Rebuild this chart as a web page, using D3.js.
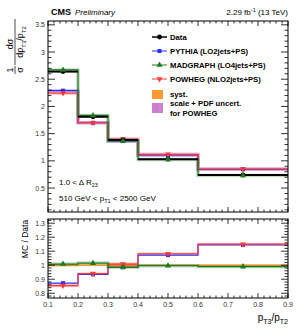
<!DOCTYPE html>
<html>
<head>
<meta charset="utf-8">
<script src="https://cdnjs.cloudflare.com/ajax/libs/d3/7.8.5/d3.min.js"></script>
<style>
  body { margin: 0; background: #fff; }
  svg { font-family: "Liberation Sans", Arial, sans-serif; }
</style>
</head>
<body>
<svg width="297" height="334"></svg>
<script>
// bin edges in pT3/pT2
const binEdges = [0.1, 0.2, 0.3, 0.4, 0.6, 0.9];

// normalised cross section (upper panel)
const dataVals = [2.64, 1.81, 1.385, 1.03, 0.74];
const pythiaVals = [2.29, 1.70, 1.365, 1.105, 0.845];
const madgraphVals = [2.67, 1.835, 1.365, 1.025, 0.733];
const powhegVals = [2.245, 1.70, 1.40, 1.12, 0.85];

// MC / Data (lower panel)
const pythiaRatio = [0.872, 0.935, 0.985, 1.072, 1.145];
const madgraphRatio = [1.008, 1.015, 0.985, 0.997, 0.99];
const powhegRatio = [0.855, 0.94, 1.008, 1.082, 1.15];
const systErr = [0.008, 0.006, 0.012, 0.006, 0.006];
const powhegTheoErr = [0.012, 0.008, 0.012, 0.01, 0.008];

const upperTicks = [0.5, 1, 1.5, 2, 2.5, 3, 3.5];
const lowerTicks = [0.8, 0.9, 1, 1.1, 1.2, 1.3];
const xTicks = [0.1, 0.2, 0.3, 0.4, 0.5, 0.6, 0.7, 0.8, 0.9];

const colData = "#000000";
const colPythia = "#2b2bff";
const colMadgraph = "#1f7a1f";
const colPowheg = "#ff3b3b";
const colSyst = "#ff9a33";
const colTheo = "#cc7fcc";

const svg = d3.select("svg");

const left = 48, right = 288;
const up = { top: 21, bottom: 212 };
const lo = { top: 219, bottom: 298 };

const x = d3.scaleLinear().domain([0.1, 0.9]).range([left, right]);
const yUp = d3.scaleLinear().domain([0.06, 3.57]).range([up.bottom, up.top]);
const yLo = d3.scaleLinear().domain([0.766, 1.33]).range([lo.bottom, lo.top]);

const bins = binEdges.slice(0, -1).map((e, i) => ({ lo: e, hi: binEdges[i + 1], mid: (e + binEdges[i + 1]) / 2, i }));

function stepPoints(vals) {
  const pts = [];
  vals.forEach((v, i) => {
    pts.push([binEdges[i], v]);
    pts.push([binEdges[i + 1], v]);
  });
  return pts;
}

function drawStep(g, vals, y, color, halo) {
  const line = d3.line().x(d => x(d[0])).y(d => y(d[1]));
  if (halo) {
    g.append("path").attr("d", line(stepPoints(vals)))
      .attr("fill", "none").attr("stroke", color).attr("stroke-opacity", 0.28).attr("stroke-width", 3.5);
  }
  g.append("path").attr("d", line(stepPoints(vals)))
    .attr("fill", "none").attr("stroke", color).attr("stroke-width", 1.2);
}

function symbolFor(shape) {
  return shape === "square" ? d3.symbolSquare : shape === "circle" ? d3.symbolCircle : d3.symbolTriangle;
}

function drawMarkers(g, vals, y, color, shape) {
  const sym = d3.symbol().type(symbolFor(shape)).size(shape === "circle" ? 18 : 16);
  g.selectAll(null).data(bins).enter().append("path")
    .attr("d", sym)
    .attr("transform", d => `translate(${x(d.mid)},${y(vals[d.i])})` + (shape === "tri-down" ? " rotate(180)" : ""))
    .attr("fill", color);
}

function drawAxes(yScale, box, yTickVals, yMinorStep, showXLabels) {
  const g = svg.append("g");
  const [y0, y1] = yScale.domain();
  // y ticks on both sides
  d3.range(Math.ceil(y0 / yMinorStep) * yMinorStep, y1, yMinorStep).forEach(v => {
    const isMajor = yTickVals.some(t => Math.abs(t - v) < 1e-6);
    const len = isMajor ? 7 : 3.5;
    const yy = yScale(v);
    g.append("line").attr("x1", left).attr("x2", left + len).attr("y1", yy).attr("y2", yy);
    g.append("line").attr("x1", right).attr("x2", right - len).attr("y1", yy).attr("y2", yy);
  });
  // x ticks top and bottom
  d3.range(0.1, 0.9001, 0.02).forEach(v => {
    const isMajor = xTicks.some(t => Math.abs(t - v) < 1e-6);
    const len = isMajor ? 5 : 2.5;
    const xx = x(v);
    g.append("line").attr("x1", xx).attr("x2", xx).attr("y1", box.bottom).attr("y2", box.bottom - len);
    g.append("line").attr("x1", xx).attr("x2", xx).attr("y1", box.top).attr("y2", box.top + len);
  });
  g.selectAll("line").attr("stroke", "#000").attr("stroke-width", 0.8);
  g.append("rect").attr("x", left).attr("y", box.top).attr("width", right - left).attr("height", box.bottom - box.top)
    .attr("fill", "none").attr("stroke", "#000").attr("stroke-width", 1);
  yTickVals.forEach(v => {
    g.append("text").attr("x", left - 3).attr("y", yScale(v) + 2.5).attr("text-anchor", "end")
      .attr("font-size", 7).attr("fill", "#333").text(String(v));
  });
  if (showXLabels) {
    xTicks.forEach(v => {
      g.append("text").attr("x", x(v)).attr("y", box.bottom + 9).attr("text-anchor", "middle")
        .attr("font-size", 7).attr("fill", "#333").text(d3.format(".1f")(v));
    });
  }
}

// ---------- upper panel ----------
const gUp = svg.append("g");
drawStep(gUp, pythiaVals, yUp, colPythia, true);
drawStep(gUp, powhegVals, yUp, colPowheg, true);
drawStep(gUp, madgraphVals, yUp, colMadgraph, true);
// data: horizontal bars across the bin width
gUp.selectAll(null).data(bins).enter().append("line")
  .attr("x1", d => x(d.lo)).attr("x2", d => x(d.hi))
  .attr("y1", d => yUp(dataVals[d.i])).attr("y2", d => yUp(dataVals[d.i]))
  .attr("stroke", colData).attr("stroke-width", 2);
drawMarkers(gUp, pythiaVals, yUp, colPythia, "square");
drawMarkers(gUp, powhegVals, yUp, colPowheg, "tri-down");
drawMarkers(gUp, dataVals, yUp, colData, "circle");
drawMarkers(gUp, madgraphVals, yUp, colMadgraph, "tri");

drawAxes(yUp, up, upperTicks, 0.1, false);

// ---------- lower panel ----------
const gLo = svg.append("g");
gLo.selectAll(null).data(bins).enter().append("rect")
  .attr("x", d => x(d.lo)).attr("width", d => x(d.hi) - x(d.lo))
  .attr("y", d => yLo(1 + systErr[d.i])).attr("height", d => yLo(1 - systErr[d.i]) - yLo(1 + systErr[d.i]))
  .attr("fill", colSyst);
gLo.selectAll(null).data(bins).enter().append("rect")
  .attr("x", d => x(d.lo)).attr("width", d => x(d.hi) - x(d.lo))
  .attr("y", d => yLo(powhegRatio[d.i] + powhegTheoErr[d.i]))
  .attr("height", d => yLo(powhegRatio[d.i] - powhegTheoErr[d.i]) - yLo(powhegRatio[d.i] + powhegTheoErr[d.i]))
  .attr("fill", colPowheg).attr("fill-opacity", 0.3);
drawStep(gLo, pythiaRatio, yLo, colPythia, false);
drawStep(gLo, powhegRatio, yLo, colPowheg, false);
drawStep(gLo, madgraphRatio, yLo, colMadgraph, true);
drawMarkers(gLo, pythiaRatio, yLo, colPythia, "square");
drawMarkers(gLo, powhegRatio, yLo, colPowheg, "tri-down");
drawMarkers(gLo, madgraphRatio, yLo, colMadgraph, "tri");

drawAxes(yLo, lo, lowerTicks, 0.02, true);

// ---------- texts ----------
svg.append("text").attr("x", 51).attr("y", 15).attr("font-size", 9).attr("font-weight", "bold").text("CMS");
svg.append("text").attr("x", 75).attr("y", 15).attr("font-size", 8).attr("font-style", "italic").text("Preliminary");
const lumi = svg.append("text").attr("x", 288).attr("y", 15).attr("font-size", 8).attr("text-anchor", "end");
lumi.append("tspan").text("2.29 fb");
lumi.append("tspan").attr("font-size", 5.5).attr("dy", -3).text("-1");
lumi.append("tspan").attr("dy", 3).text(" (13 TeV)");

const t1 = svg.append("text").attr("x", 59).attr("y", 185).attr("font-size", 8);
t1.append("tspan").text("1.0 < \u0394 R");
t1.append("tspan").attr("font-size", 5.5).attr("dy", 2).text("23");
const t2 = svg.append("text").attr("x", 59).attr("y", 201).attr("font-size", 8);
t2.append("tspan").text("510 GeV < p");
t2.append("tspan").attr("font-size", 5.5).attr("dy", 2).text("T1");
t2.append("tspan").attr("dy", -2).text(" < 2500 GeV");

// x title
const xt = svg.append("text").attr("x", 288).attr("y", 321).attr("font-size", 10).attr("text-anchor", "end");
xt.append("tspan").text("p");
xt.append("tspan").attr("font-size", 7).attr("dy", 2.5).text("T3");
xt.append("tspan").attr("dy", -2.5).text("/p");
xt.append("tspan").attr("font-size", 7).attr("dy", 2.5).text("T2");

// lower y title
svg.append("text").attr("transform", "translate(28,239) rotate(-90)").attr("text-anchor", "middle")
  .attr("font-size", 8.5).text("MC / Data");

// upper y title: 1/sigma dsigma/d(pT3/pT2)
const yt = svg.append("g").attr("transform", "rotate(-90)");
yt.append("text").attr("x", -70).attr("y", 13).attr("text-anchor", "middle").attr("font-size", 9).text("1");
yt.append("line").attr("x1", -74).attr("x2", -66).attr("y1", 15).attr("y2", 15).attr("stroke", "#000").attr("stroke-width", 0.7);
yt.append("text").attr("x", -70).attr("y", 23).attr("text-anchor", "middle").attr("font-size", 9).text("\u03c3");
yt.append("text").attr("x", -44).attr("y", 13).attr("text-anchor", "middle").attr("font-size", 9).text("d\u03c3");
yt.append("line").attr("x1", -65).attr("x2", -19).attr("y1", 15).attr("y2", 15).attr("stroke", "#000").attr("stroke-width", 0.7);
const den = yt.append("text").attr("x", -42).attr("y", 23).attr("text-anchor", "middle").attr("font-size", 9);
den.append("tspan").text("dp");
den.append("tspan").attr("font-size", 6).attr("dy", 2.5).text("T3");
den.append("tspan").attr("dy", -2.5).text("/p");
den.append("tspan").attr("font-size", 6).attr("dy", 2.5).text("T2");

// ---------- legend ----------
const legend = [
  { label: "Data", color: colData, shape: "circle", width: 1.5 },
  { label: "PYTHIA (LO2jets+PS)", color: colPythia, shape: "square", width: 1 },
  { label: "MADGRAPH (LO4jets+PS)", color: colMadgraph, shape: "tri", width: 1 },
  { label: "POWHEG (NLO2jets+PS)", color: colPowheg, shape: "tri-down", width: 1 }
];
const lg = svg.append("g").attr("font-size", 7.7).attr("font-weight", "bold");
legend.forEach((d, i) => {
  const yy = 37 + i * 14;
  lg.append("line").attr("x1", 152).attr("x2", 167).attr("y1", yy).attr("y2", yy).attr("stroke", d.color).attr("stroke-width", d.width);
  lg.append("path").attr("d", d3.symbol().type(symbolFor(d.shape)).size(d.shape === "circle" ? 18 : 16)())
    .attr("transform", `translate(159.5,${yy})` + (d.shape === "tri-down" ? " rotate(180)" : ""))
    .attr("fill", d.color);
  lg.append("text").attr("x", 170).attr("y", yy + 3).text(d.label);
});
lg.append("rect").attr("x", 152).attr("y", 90).attr("width", 11).attr("height", 9).attr("fill", colSyst);
lg.append("text").attr("x", 170).attr("y", 97).text("syst.");
lg.append("rect").attr("x", 152).attr("y", 103).attr("width", 11).attr("height", 10).attr("fill", colTheo);
lg.append("line").attr("x1", 160).attr("x2", 160).attr("y1", 103).attr("y2", 113).attr("stroke", "#e0a8e0").attr("stroke-width", 0.8).attr("stroke-dasharray", "1,1");
lg.append("text").attr("x", 170).attr("y", 106).text("scale + PDF uncert.");
lg.append("text").attr("x", 170).attr("y", 116).text("for POWHEG");
</script>
</body>
</html>
